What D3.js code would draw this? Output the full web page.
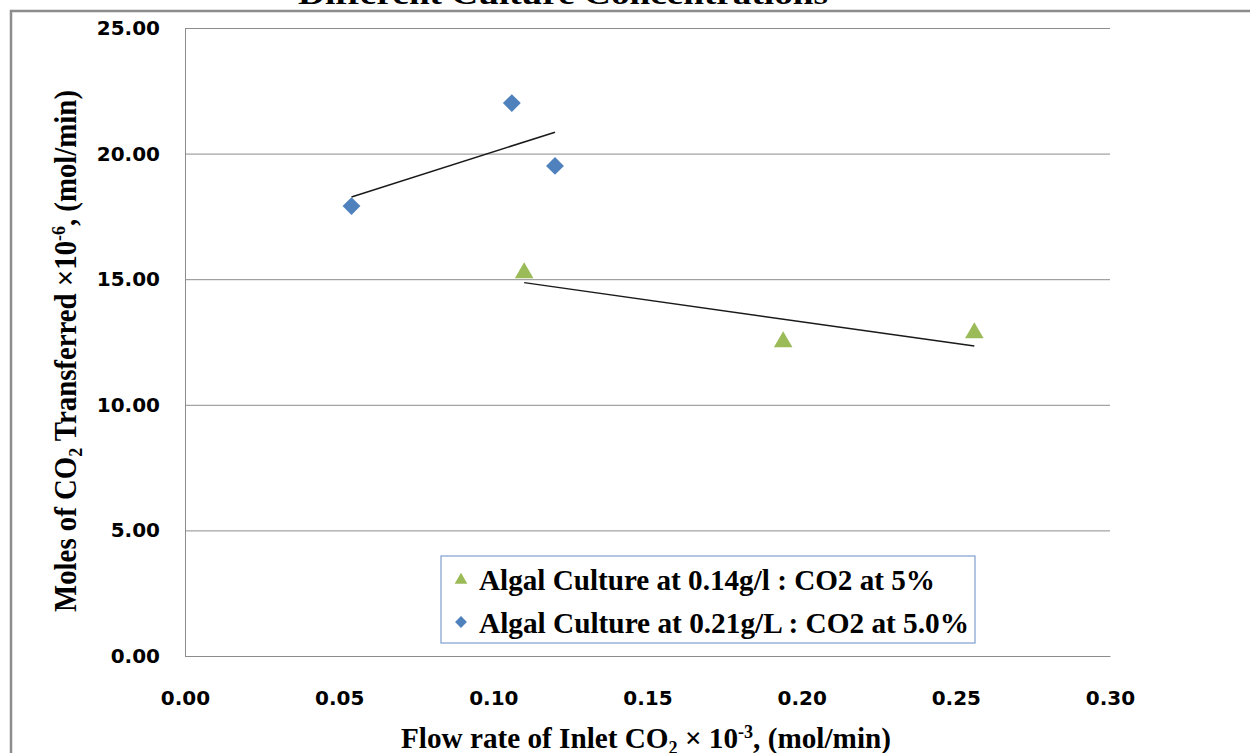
<!DOCTYPE html>
<html>
<head>
<meta charset="utf-8">
<script src="https://cdn.jsdelivr.net/npm/d3@7"></script>
<style>
  body { margin: 0; background: #fff; }
  svg { display: block; }
</style>
</head>
<body>
<div id="chart"></div>
<script>
// data
const series1Name = "Algal Culture at 0.14g/l : CO2 at 5%",
    series1X = [0.110, 0.194, 0.256],
    series1Y = [15.25, 12.50, 12.86];

const series2Name = "Algal Culture at 0.21g/L : CO2 at 5.0%",
    series2X = [0.054, 0.106, 0.120],
    series2Y = [17.91, 22.01, 19.51];

const xTicks = [0, 0.05, 0.10, 0.15, 0.20, 0.25, 0.30],
    yTicks = [0, 5, 10, 15, 20, 25];

const width = 1250, height = 753,
    margin = ({ top: 28, right: 140, bottom: 97, left: 185 });

const svg = d3.select("#chart")
    .append("svg")
    .attr("width", width)
    .attr("height", height);

// outer chart frame (right / bottom edges fall outside the picture)
svg.append("rect")
    .attr("x", 11).attr("y", 11)
    .attr("width", width + 20).attr("height", height + 20)
    .attr("fill", "none")
    .attr("stroke", "#8c8c8c")
    .attr("stroke-width", 2.5);

let x = d3.scaleLinear()
    .domain([0, 0.30])
    .range([margin.left, width - margin.right]);

let y = d3.scaleLinear()
    .domain([0, 25])
    .range([height - margin.bottom, margin.top]);

// horizontal gridlines + y labels
svg.append("g")
    .attr("transform", `translate(${margin.left},0)`)
    .call(d3.axisLeft(y).tickValues(yTicks).tickFormat(d3.format(".2f"))
        .tickSize(-(width - margin.right - margin.left)).tickPadding(25))
    .call(g => g.select(".domain").attr("stroke", "#8c8c8c"))
    .call(g => g.selectAll(".tick line").attr("stroke", "#8c8c8c"))
    .call(g => g.selectAll(".tick text")
        .style("font", "bold 20px 'DejaVu Sans'").attr("fill", "#000"));

// x axis
svg.append("g")
    .attr("transform", `translate(0,${height - margin.bottom})`)
    .call(d3.axisBottom(x).tickValues(xTicks).tickFormat(d3.format(".2f"))
        .tickSize(0).tickPadding(35))
    .call(g => g.select(".domain").attr("stroke", "#8c8c8c"))
    .call(g => g.selectAll(".tick text")
        .style("font", "bold 20px 'DejaVu Sans'").attr("fill", "#000"));

// linear trend lines (least squares), drawn over each series' x range
function trend(xs, ys) {
    let mx = d3.mean(xs), my = d3.mean(ys);
    let b = d3.sum(xs, (v, i) => (v - mx) * (ys[i] - my)) / d3.sum(xs, v => (v - mx) ** 2);
    let a = my - b * mx;
    let ext = d3.extent(xs);
    return ext.map(v => [v, a + b * v]);
}

let line = d3.line()
    .x(d => x(d[0]))
    .y(d => y(d[1]));

[[series2X, series2Y], [series1X, series1Y]].forEach(s => {
    svg.append("path")
        .datum(trend(s[0], s[1]))
        .attr("d", line)
        .attr("fill", "none")
        .attr("stroke", "#1a1a1a")
        .attr("stroke-width", 1.5);
});

const diamond = d3.symbol().type(d3.symbolSquare).size(160);
const triangle = d3.symbol().type(d3.symbolTriangle).size(150);

svg.append("g").selectAll("path")
    .data(series2X.map((v, i) => [v, series2Y[i]]))
    .join("path")
    .attr("d", diamond)
    .attr("transform", d => `translate(${x(d[0])},${y(d[1])}) rotate(45)`)
    .attr("fill", "#4f81bd");

svg.append("g").selectAll("path")
    .data(series1X.map((v, i) => [v, series1Y[i]]))
    .join("path")
    .attr("d", triangle)
    .attr("transform", d => `translate(${x(d[0])},${y(d[1])})`)
    .attr("fill", "#9bbb59");

// text helper: parts are [string, "sub"|"sup"|undefined]
function richText(g, parts, size) {
    let t = g.append("text")
        .style("font-family", "'Liberation Serif', 'Times New Roman', serif")
        .style("font-weight", "bold")
        .style("font-size", size + "px")
        .attr("fill", "#000");
    let shift = 0;
    parts.forEach(p => {
        let target = p[1] === "sub" ? 0.2 * size : p[1] === "sup" ? -0.35 * size : 0;
        t.append("tspan")
            .attr("dy", target - shift)
            .style("font-size", p[1] ? (0.62 * size) + "px" : null)
            .text(p[0]);
        shift = target;
    });
    return t;
}

// chart title (cut off at the top of the picture)
richText(svg, [["Different Culture Concentrations"]], 30)
    .attr("x", 298).attr("y", 4)
    .attr("textLength", 530).attr("lengthAdjust", "spacingAndGlyphs");

// x axis title
richText(svg, [["Flow rate of Inlet CO"], ["2", "sub"], [" × 10"], ["-3", "sup"], [", (mol/min)"]], 29)
    .attr("x", 401).attr("y", 748)
    .attr("textLength", 490).attr("lengthAdjust", "spacingAndGlyphs");

// y axis title
richText(svg.append("g").attr("transform", "translate(76,612) rotate(-90)"),
    [["Moles of CO"], ["2", "sub"], [" Transferred ×10"], ["-6", "sup"], [", (mol/min)"]], 31)
    .attr("x", 0).attr("y", 0)
    .attr("textLength", 522).attr("lengthAdjust", "spacingAndGlyphs");

// legend
const legend = svg.append("g");
legend.append("rect")
    .attr("x", 441).attr("y", 556)
    .attr("width", 534).attr("height", 87)
    .attr("fill", "#fff")
    .attr("stroke", "#7f9fcf")
    .attr("stroke-width", 1.2);

legend.append("path")
    .attr("d", d3.symbol().type(d3.symbolTriangle).size(70))
    .attr("transform", "translate(461,580)")
    .attr("fill", "#9bbb59");
richText(legend, [[series1Name]], 30)
    .attr("x", 479).attr("y", 590)
    .attr("textLength", 456).attr("lengthAdjust", "spacingAndGlyphs");

legend.append("path")
    .attr("d", d3.symbol().type(d3.symbolSquare).size(70))
    .attr("transform", "translate(461,622) rotate(45)")
    .attr("fill", "#4f81bd");
richText(legend, [[series2Name]], 30)
    .attr("x", 479).attr("y", 633)
    .attr("textLength", 490).attr("lengthAdjust", "spacingAndGlyphs");
</script>
</body>
</html>
